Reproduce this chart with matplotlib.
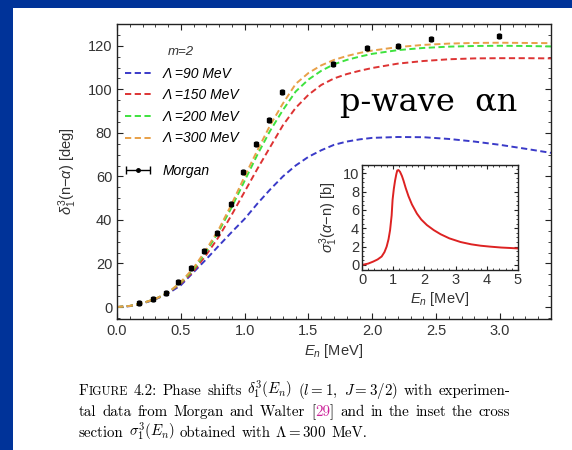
import numpy as np
import matplotlib
matplotlib.use('Agg')
import matplotlib.pyplot as plt
from matplotlib.patches import Rectangle
from matplotlib.ticker import MultipleLocator
from matplotlib.legend_handler import HandlerErrorbar

plt.rcParams['font.family'] = ['Liberation Sans', 'DejaVu Sans']
plt.rcParams['mathtext.fontset'] = 'custom'
plt.rcParams['mathtext.rm'] = 'Liberation Sans'
plt.rcParams['mathtext.it'] = 'Liberation Sans:italic'
plt.rcParams['mathtext.bf'] = 'Liberation Sans:bold'

# phase shift curves (E_n in MeV, delta in deg)
E = [0.0, 0.1, 0.2, 0.3, 0.4, 0.5, 0.6, 0.7, 0.8, 0.9, 1.0, 1.1, 1.2, 1.3, 1.4,
     1.5, 1.6, 1.7, 1.8, 1.9, 2.0, 2.2, 2.4, 2.6, 2.8, 3.0, 3.2, 3.4]
d90 = [0, 0.4, 1.6, 3.5, 6.2, 10.0, 16.0, 22.0, 28.3, 34.5, 40.5, 47.5, 54.0,
       60.0, 65.0, 69.0, 72.0, 74.5, 76.0, 77.0, 77.7, 78.1, 78.0, 77.2, 76.0,
       74.5, 72.7, 70.8]
d150 = [0, 0.5, 1.8, 3.7, 6.5, 10.8, 16.5, 24.0, 32.5, 42.5, 53.0, 63.5, 73.5,
        83.5, 91.5, 97.5, 102.0, 105.0, 107.0, 108.5, 109.8, 111.8, 113.0,
        113.8, 114.2, 114.3, 114.3, 114.2]
d200 = [0, 0.5, 1.8, 3.7, 6.6, 11.2, 17.3, 25.5, 35.0, 46.0, 58.0, 70.0, 81.0,
        90.5, 99.0, 104.5, 108.5, 111.5, 113.5, 115.0, 116.3, 118.0, 119.0,
        119.6, 119.9, 120.0, 119.9, 119.7]
d300 = [0, 0.5, 1.8, 3.7, 6.6, 11.5, 18.0, 26.5, 36.0, 47.5, 60.0, 72.0, 83.5,
        93.5, 102.5, 107.5, 111.0, 113.5, 115.3, 116.7, 117.8, 119.4, 120.4,
        121.0, 121.3, 121.4, 121.3, 121.2]

# Morgan & Walter data
E_exp = [0.17, 0.28, 0.38, 0.48, 0.58, 0.68, 0.78, 0.89, 0.99, 1.09, 1.19,
         1.29, 1.69, 1.96, 2.20, 2.46, 2.99]
d_exp = [2.0, 3.8, 6.4, 11.3, 17.8, 25.7, 34.2, 47.4, 62.2, 75.0, 85.7, 98.7,
         111.6, 118.9, 120.1, 123.0, 124.6]
d_err = [1.4] * len(E_exp)

# inset: cross section for Lambda = 300 MeV
E_in = [0.0, 0.2, 0.36, 0.5, 0.63, 0.72, 0.79, 0.85, 0.9, 0.95, 0.98, 1.02,
        1.06, 1.1, 1.13, 1.17, 1.22, 1.28, 1.33, 1.4, 1.49, 1.6, 1.76, 1.9,
        2.08, 2.3, 2.52, 2.8, 3.16, 3.5, 3.8, 4.1, 4.46, 4.75, 5.0]
s_in = [0.0, 0.15, 0.37, 0.6, 0.92, 1.4, 2.0, 2.8, 3.8, 5.4, 7.1, 8.3, 9.2,
        9.9, 10.3, 10.35, 10.15, 9.7, 9.2, 8.4, 7.5, 6.6, 5.6, 4.95, 4.35, 3.8,
        3.35, 2.9, 2.5, 2.25, 2.1, 2.0, 1.9, 1.85, 1.8]

labels = ['Λ =90 MeV', 'Λ =150 MeV', 'Λ =200 MeV', 'Λ =300 MeV']
colors = ['#3a3ac8', '#dd3333', '#3ee23e', '#e8a048']
tick_col = '#333333'

fig = plt.figure(figsize=(5.72, 4.5), dpi=100)
fig.patch.set_facecolor('#003399')
fig.patches.append(Rectangle((13 / 572, 0), 1, 1 - 8 / 450, transform=fig.transFigure,
                             facecolor='white', edgecolor='none', zorder=-10))

ax = fig.add_axes([117 / 572, 1 - 319 / 450, 434 / 572, 295 / 450])
curves = [d90, d150, d200, d300]
handles = []
for d, c, lab in zip(curves, colors, labels):
    h, = ax.plot(E, d, color=c, lw=1.4, dashes=(3.2, 1.8), label=lab)
    handles.append(h)
ax.errorbar(E_exp, d_exp, yerr=d_err, fmt='s', ms=3, color='black',
            elinewidth=1.8, capsize=0, zorder=5)
morgan = ax.errorbar([np.nan], [np.nan], xerr=[1], fmt='o', ms=2.5, color='black',
                     elinewidth=1, capsize=3, label='Morgan')

ax.set_xlim(0, 3.4)
ax.set_ylim(-5.5, 130)
ax.xaxis.set_major_locator(MultipleLocator(0.5))
ax.xaxis.set_minor_locator(MultipleLocator(0.1))
ax.yaxis.set_major_locator(MultipleLocator(20))
ax.yaxis.set_minor_locator(MultipleLocator(5))
ax.tick_params(which='both', direction='in', top=True, right=True,
               labelsize=10.5, labelcolor=tick_col, color='#222222')
ax.tick_params(which='major', length=4)
ax.tick_params(which='minor', length=2)
ax.xaxis.set_major_formatter(matplotlib.ticker.FormatStrFormatter('%.1f'))
for s in ax.spines.values():
    s.set_linewidth(1.0)
    s.set_color('#222222')
ax.set_xlabel(r'$E_n$ [MeV]', fontsize=10.5, color=tick_col, labelpad=3)
ax.set_ylabel(r'$\delta_1^3$(n$-\alpha$) [deg]', fontsize=10.5, color=tick_col, labelpad=6)

ax.text((168 - 117) / 434, (319 - 52) / 295, 'm=2', transform=ax.transAxes,
        fontsize=9.5, style='italic', va='center', ha='left', color=tick_col)
leg = ax.legend(handles=handles, loc='upper left',
                bbox_to_anchor=(0.005, (319 - 61) / 295), frameon=False, borderpad=0,
                handlelength=1.9, handletextpad=0.8, labelspacing=0.55,
                borderaxespad=0.4, prop={'style': 'italic', 'size': 10})
ax.add_artist(leg)
ax.legend(handles=[morgan], loc='center left', bbox_to_anchor=(0.005, 0.502),
          frameon=False, borderpad=0, handlelength=1.9, handletextpad=0.8,
          borderaxespad=0.4, prop={'style': 'italic', 'size': 10},
          handler_map={type(morgan): HandlerErrorbar(xerr_size=0.85)})

ax.text(0.514, 0.705, 'p-wave  αn', transform=ax.transAxes, family='DejaVu Serif',
        fontsize=23, va='baseline', ha='left', color='black')

# inset
axi = fig.add_axes([362 / 572, 1 - 270 / 450, 156 / 572, 105 / 450])
axi.plot(E_in, s_in, color='#dd2222', lw=1.4)
axi.set_xlim(0, 5)
axi.set_ylim(-0.55, 10.9)
axi.xaxis.set_major_locator(MultipleLocator(1))
axi.xaxis.set_minor_locator(MultipleLocator(0.2))
axi.yaxis.set_major_locator(MultipleLocator(2))
axi.yaxis.set_minor_locator(MultipleLocator(0.5))
axi.tick_params(which='both', direction='in', top=True, right=True,
                labelsize=10.5, labelcolor=tick_col, color='#222222', pad=2)
axi.tick_params(which='major', length=3)
axi.tick_params(which='minor', length=1.5)
for s in axi.spines.values():
    s.set_linewidth(1.0)
    s.set_color('#222222')
axi.set_xlabel(r'$E_n$ [MeV]', fontsize=10.5, color=tick_col, labelpad=2)
axi.set_ylabel(r'$\sigma_1^3(\alpha$$-$n) [b]', fontsize=10.5, color=tick_col, labelpad=2)

# caption
renderer = fig.canvas.get_renderer()
plt.rcParams['mathtext.fontset'] = 'cm'
cap = 10.8
magenta = '#cc2299'


def line(y, words, x0=79, x1=None):
    # words: list of lists of (text, size, color) segments
    texts = []
    widths = []
    for w in words:
        segs = []
        wid = 0
        for txt, size, col in w:
            t = fig.text(0, 0, txt, family='cmr10', fontsize=size, color=col,
                         va='baseline', ha='left')
            wid += t.get_window_extent(renderer).width
            segs.append(t)
        texts.append(segs)
        widths.append(wid)
    space = fig.text(0, 0, 'a a', family='cmr10', fontsize=cap).get_window_extent(renderer).width
    space -= 2 * fig.text(0, 0, 'a', family='cmr10', fontsize=cap).get_window_extent(renderer).width
    for t in fig.texts[-2:]:
        t.remove()
    if x1 is None:
        gap = space
    else:
        gap = (x1 - x0 - sum(widths)) / (len(words) - 1)
    x = x0
    for segs in texts:
        for t in segs:
            t.set_position((x / 572, 1 - y / 450))
            x += t.get_window_extent(renderer).width
        x += gap


def simple(s, col='black'):
    return [[(w, cap, col)] for w in s.split(' ')]


w1 = [[('F', cap, 'black'), ('IGURE', cap * 0.8, 'black')]]
w1 += simple('4.2: Phase shifts')
w1 += [[(r'$\delta_1^3(E_n)$', cap, 'black')], [(r'($l = 1$,', cap, 'black')],
       [(r'$J = 3/2$)', cap, 'black')]]
w1 += simple('with experimen-')
line(395, w1, x1=510)

w2 = simple('tal data from Morgan and Walter')
w2 += [[('[', cap, 'black'), ('29', cap, magenta), (']', cap, 'black')]]
w2 += simple('and in the inset the cross')
line(416, w2, x1=510)

w3 = simple('section') + [[(r'$\sigma_1^3(E_n)$', cap, 'black')]]
w3 += simple('obtained with') + [[(r'$\Lambda = 300$', cap, 'black')]] + simple('MeV.')
line(437, w3)

fig.savefig('out.png', dpi=100, facecolor=fig.get_facecolor())
